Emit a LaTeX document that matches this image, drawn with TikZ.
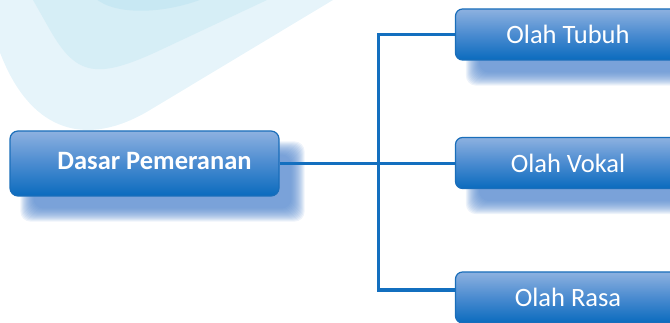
\documentclass[tikz,border=0pt]{standalone}
\usepackage{fontspec}
\setmainfont{Carlito}
\definecolor{bgA}{HTML}{E6F4FA}
\definecolor{bgB}{HTML}{D6EEF6}
\definecolor{bgC}{HTML}{C8E8F3}
\definecolor{boxtop}{HTML}{8DB1E0}
\definecolor{boxmid}{HTML}{4A8BD0}
\definecolor{boxbot}{HTML}{0A6BBE}
\definecolor{boxline}{HTML}{1A6EBA}
\definecolor{connc}{HTML}{136FBF}
\definecolor{shadowc}{HTML}{4F84CC}
\pgfdeclarelayer{deep}
\pgfdeclarelayer{bg}
\pgfsetlayers{deep,bg,main}
\newcommand\boxshadow[1]{%
  \foreach \d in {7,6,...,-6}{%
    \fill[shadowc, opacity=0.095, rounded corners=10pt]
      ([shift={(18-\d,-18-\d)}]#1.south west) rectangle ([shift={(18+\d,-18+\d)}]#1.north east);
  }%
}
\begin{document}
\begin{tikzpicture}[x=1pt,y=1pt,
  mainbox/.style={draw=boxline, line width=1.2pt, rounded corners=8pt,
    top color=boxtop, bottom color=boxbot, middle color=boxmid,
    text=white, minimum width=269pt, minimum height=65pt, inner sep=0pt,
    font=\fontsize{26.5}{30}\selectfont\bfseries, text depth=6pt},
  subbox/.style={draw=boxline, line width=1.2pt, rounded corners=7pt,
    top color=boxtop, bottom color=boxbot, middle color=boxmid,
    text=white, minimum width=225pt, minimum height=51pt, inner sep=0pt,
    font=\fontsize{26.5}{30}\selectfont},
  conn/.style={draw=connc, line width=3.3pt}]
\path[use as bounding box] (0,0) rectangle (670,323);
\clip (0,0) rectangle (670,323);
% nodes
\node[mainbox] (dasar) at (144.5,159.5) {\hspace*{20pt}Dasar Pemeranan};
\node[subbox] (tubuh) at (568,288.5) {Olah Tubuh};
\node[subbox] (vokal) at (568,160) {Olah Vokal};
\node[subbox] (rasa) at (568,25.5) {Olah Rasa};
\coordinate (j) at (378.3,159.7);
% background shapes
\begin{pgfonlayer}{deep}
\begin{scope}[yshift=323pt, yscale=-1]
\fill[bgA] (-24,-5) -- (-22,0) -- (3,60) .. controls (33,131) and (86,148.5) .. (150,110) -- (333,0) -- (342,-5) -- cycle;
\fill[bgB] (30,-5) -- (33,0) -- (50,30) .. controls (76.3,76) and (96.6,80) .. (160.5,50) -- (267,0) -- (278,-5) -- cycle;
\fill[bgC] (95,-2) .. controls (115,16) and (165,14) .. (205,-2) -- cycle;
\end{scope}
\end{pgfonlayer}
% shadows and connectors
\begin{pgfonlayer}{bg}
\boxshadow{dasar}
\boxshadow{tubuh}
\boxshadow{vokal}
\boxshadow{rasa}
\draw[conn] (dasar.east) -- (dasar.east -| vokal.west);
\draw[conn] (tubuh.west) -| (j) |- ([yshift=7.5pt]rasa.west);
\end{pgfonlayer}
\end{tikzpicture}
\end{document}
